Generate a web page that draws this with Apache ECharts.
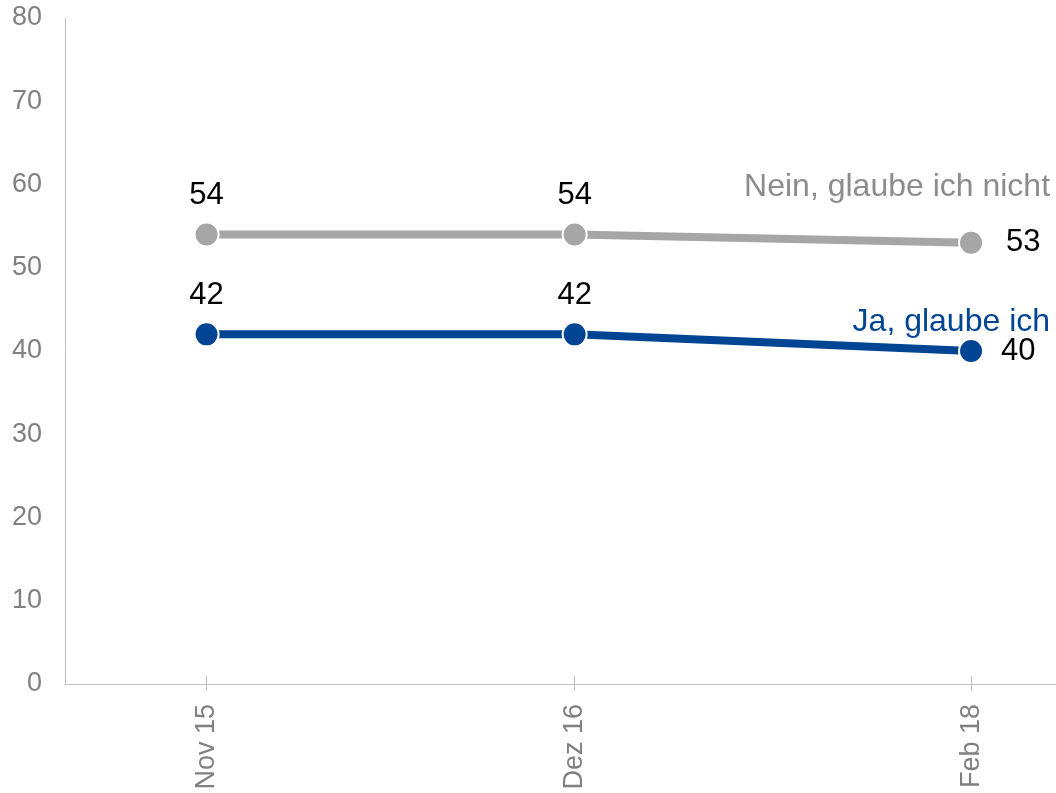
<!DOCTYPE html>
<html>
<head>
<meta charset="utf-8">
<script src="https://cdn.jsdelivr.net/npm/echarts@6/dist/echarts.min.js"></script>
<style>
html,body{margin:0;padding:0;background:#fff;}
#chart{width:1056px;height:793px;}
</style>
</head>
<body>
<div id="chart"></div>
<script>
// ---- data ----
var categories = ['Nov 15', 'Dez 16', 'Feb 18'];
var monthOffsets = [0, 13, 27];           // months since Nov 2015
var seriesNames = ['Nein, glaube ich nicht', 'Ja, glaube ich'];
var neinValues = [54, 54, 53];
var jaValues = [42, 42, 40];
var yTicks = [0, 10, 20, 30, 40, 50, 60, 70, 80];

var FONT = 'Liberation Sans, Arial, sans-serif';
var GRAY = '#a6a6a6';
var BLUE = '#004494';
var AXIS_FS = 27;
var LABEL_FS = 31;
var NAME_FS = 32;

function buildData(vals, lastDist) {
  return vals.map(function (v, i) {
    var item = { value: [monthOffsets[i], v] };
    if (i === vals.length - 1) {
      item.label = { position: 'right', distance: lastDist };
    }
    return item;
  });
}

function catLabel(v) {
  var idx = monthOffsets.indexOf(v);
  return idx >= 0 ? categories[idx] : '';
}

var chart = echarts.init(document.getElementById('chart'), null, { renderer: 'canvas' });
var baseX = {
  type: 'value', min: -5, max: 30, position: 'bottom', splitLine: { show: false }
};
chart.setOption({
  animation: false,
  backgroundColor: '#fff',
  grid: { left: 65, right: 0, top: 18, bottom: 109, containLabel: false },
  xAxis: [
    Object.assign({}, baseX, {
      axisLine: { show: true, onZero: false, lineStyle: { color: '#c0c0c0', width: 1 } },
      axisTick: { show: true, inside: false, length: 7, lineStyle: { color: '#c0c0c0' }, customValues: monthOffsets },
      axisLabel: {
        show: true, rotate: 90, margin: 20, color: '#808080', fontSize: AXIS_FS, fontFamily: FONT,
        customValues: monthOffsets, formatter: catLabel
      }
    }),
    Object.assign({}, baseX, {
      axisLine: { show: false, onZero: false },
      axisTick: { show: true, inside: true, length: 8, lineStyle: { color: '#c0c0c0' }, customValues: monthOffsets },
      axisLabel: { show: false }
    })
  ],
  yAxis: {
    type: 'value', min: 0, max: 80, interval: 10,
    axisLine: { show: true, onZero: false, lineStyle: { color: '#c0c0c0', width: 1 } },
    axisTick: { show: false },
    splitLine: { show: false },
    axisLabel: { margin: 23, color: '#808080', fontSize: AXIS_FS, fontFamily: FONT,
      formatter: function (v) { return yTicks.indexOf(v) >= 0 ? String(v) : ''; } }
  },
  series: [
    {
      name: seriesNames[0], type: 'line', xAxisIndex: 0,
      data: buildData(neinValues, 22),
      lineStyle: { color: GRAY, width: 8 },
      itemStyle: { color: GRAY, borderColor: '#fff', borderWidth: 2 },
      symbol: 'circle', symbolSize: 24,
      label: { show: true, position: 'top', distance: 10, color: '#000', fontSize: LABEL_FS, fontFamily: FONT, formatter: function (p) { return p.value[1]; } },
      endLabel: { show: true, formatter: function (p) { return p.seriesName; }, align: 'right', verticalAlign: 'middle',
        distance: 0, offset: [79, -56], color: '#8c8c8c', fontSize: NAME_FS, fontFamily: FONT }
    },
    {
      name: seriesNames[1], type: 'line', xAxisIndex: 0,
      data: buildData(jaValues, 17),
      lineStyle: { color: BLUE, width: 8 },
      itemStyle: { color: BLUE, borderColor: '#fff', borderWidth: 2 },
      symbol: 'circle', symbolSize: 24,
      label: { show: true, position: 'top', distance: 10, color: '#000', fontSize: LABEL_FS, fontFamily: FONT, formatter: function (p) { return p.value[1]; } },
      endLabel: { show: true, formatter: function (p) { return p.seriesName; }, align: 'right', verticalAlign: 'middle',
        distance: 0, offset: [79, -29], color: BLUE, fontSize: NAME_FS, fontFamily: FONT }
    }
  ]
});
</script>
</body>
</html>
